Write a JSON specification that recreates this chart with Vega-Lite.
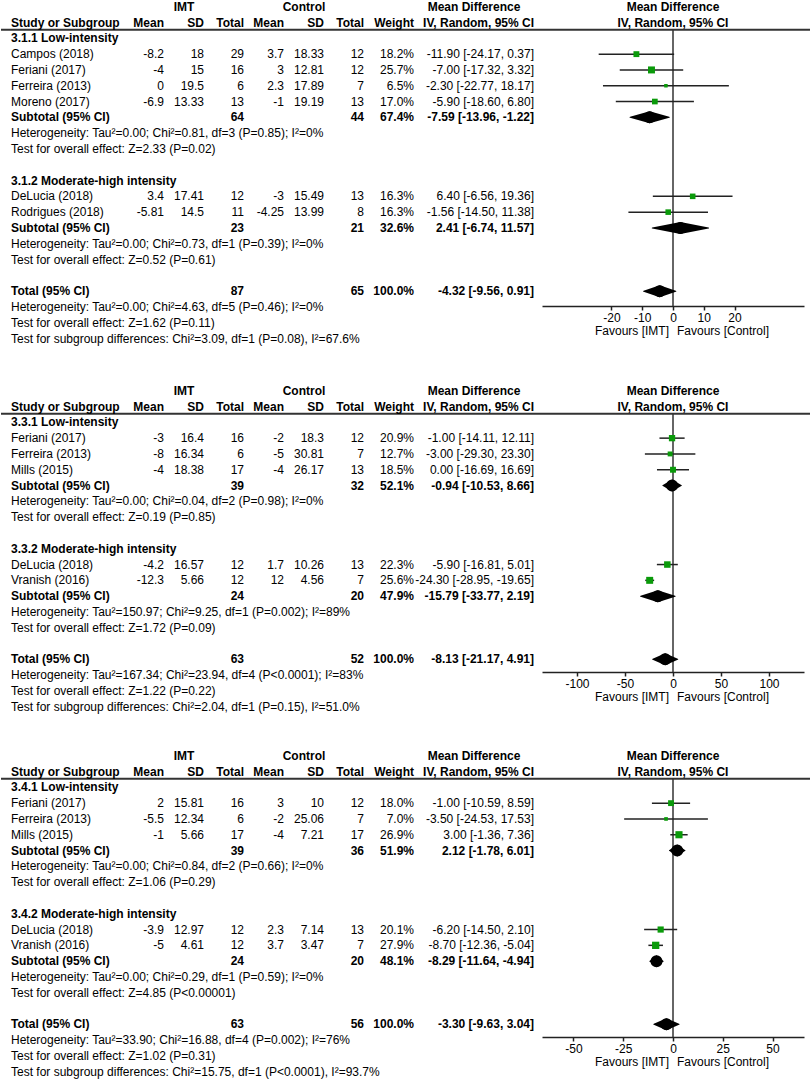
{
"$schema":"https://vega.github.io/schema/vega-lite/v6.json",
"padding":0,
"background":"white",
"spacing":27,
"datasets":{
"p1":[
{"line":-2,"kind":"group","g_imt":"IMT","g_ctl":"Control","g_md":"Mean Difference","fh":"Mean Difference"},
{"line":-1,"kind":"header","label":"Study or Subgroup","m1":"Mean","sd1":"SD","n1":"Total","m2":"Mean","sd2":"SD","n2":"Total","w":"Weight","ci":"IV, Random, 95% CI","fh":"IV, Random, 95% CI","fav1":"Favours [IMT]","fav2":"Favours [Control]"},
{"line":0,"kind":"section","label":"3.1.1 Low-intensity"},
{"line":1,"kind":"study","label":"Campos (2018)","m1":"-8.2","sd1":"18","n1":"29","m2":"3.7","sd2":"18.33","n2":"12","w":"18.2%","ci":"-11.90 [-24.17, 0.37]","est":-11.9,"lo":-24.17,"hi":0.37,"wt":18.2},
{"line":2,"kind":"study","label":"Feriani (2017)","m1":"-4","sd1":"15","n1":"16","m2":"3","sd2":"12.81","n2":"12","w":"25.7%","ci":"-7.00 [-17.32, 3.32]","est":-7,"lo":-17.32,"hi":3.32,"wt":25.7},
{"line":3,"kind":"study","label":"Ferreira (2013)","m1":"0","sd1":"19.5","n1":"6","m2":"2.3","sd2":"17.89","n2":"7","w":"6.5%","ci":"-2.30 [-22.77, 18.17]","est":-2.3,"lo":-22.77,"hi":18.17,"wt":6.5},
{"line":4,"kind":"study","label":"Moreno (2017)","m1":"-6.9","sd1":"13.33","n1":"13","m2":"-1","sd2":"19.19","n2":"13","w":"17.0%","ci":"-5.90 [-18.60, 6.80]","est":-5.9,"lo":-18.6,"hi":6.8,"wt":17.0},
{"line":5,"kind":"subtotal","label":"Subtotal (95% CI)","n1":"64","n2":"44","w":"67.4%","ci":"-7.59 [-13.96, -1.22]","est":-7.59,"lo":-13.96,"hi":-1.22},
{"line":6,"kind":"note","label":"Heterogeneity: Tau²=0.00; Chi²=0.81, df=3 (P=0.85); I²=0%"},
{"line":7,"kind":"note","label":"Test for overall effect: Z=2.33 (P=0.02)"},
{"line":9,"kind":"section","label":"3.1.2 Moderate-high intensity"},
{"line":10,"kind":"study","label":"DeLucia (2018)","m1":"3.4","sd1":"17.41","n1":"12","m2":"-3","sd2":"15.49","n2":"13","w":"16.3%","ci":"6.40 [-6.56, 19.36]","est":6.4,"lo":-6.56,"hi":19.36,"wt":16.3},
{"line":11,"kind":"study","label":"Rodrigues (2018)","m1":"-5.81","sd1":"14.5","n1":"11","m2":"-4.25","sd2":"13.99","n2":"8","w":"16.3%","ci":"-1.56 [-14.50, 11.38]","est":-1.56,"lo":-14.5,"hi":11.38,"wt":16.3},
{"line":12,"kind":"subtotal","label":"Subtotal (95% CI)","n1":"23","n2":"21","w":"32.6%","ci":"2.41 [-6.74, 11.57]","est":2.41,"lo":-6.74,"hi":11.57},
{"line":13,"kind":"note","label":"Heterogeneity: Tau²=0.00; Chi²=0.73, df=1 (P=0.39); I²=0%"},
{"line":14,"kind":"note","label":"Test for overall effect: Z=0.52 (P=0.61)"},
{"line":16,"kind":"total","label":"Total (95% CI)","n1":"87","n2":"65","w":"100.0%","ci":"-4.32 [-9.56, 0.91]","est":-4.32,"lo":-9.56,"hi":0.91},
{"line":17,"kind":"note","label":"Heterogeneity: Tau²=0.00; Chi²=4.63, df=5 (P=0.46); I²=0%"},
{"line":18,"kind":"note","label":"Test for overall effect: Z=1.62 (P=0.11)"},
{"line":19,"kind":"note","label":"Test for subgroup differences: Chi²=3.09, df=1 (P=0.08), I²=67.6%"}
],
"p2":[
{"line":-2,"kind":"group","g_imt":"IMT","g_ctl":"Control","g_md":"Mean Difference","fh":"Mean Difference"},
{"line":-1,"kind":"header","label":"Study or Subgroup","m1":"Mean","sd1":"SD","n1":"Total","m2":"Mean","sd2":"SD","n2":"Total","w":"Weight","ci":"IV, Random, 95% CI","fh":"IV, Random, 95% CI","fav1":"Favours [IMT]","fav2":"Favours [Control]"},
{"line":0,"kind":"section","label":"3.3.1 Low-intensity"},
{"line":1,"kind":"study","label":"Feriani (2017)","m1":"-3","sd1":"16.4","n1":"16","m2":"-2","sd2":"18.3","n2":"12","w":"20.9%","ci":"-1.00 [-14.11, 12.11]","est":-1,"lo":-14.11,"hi":12.11,"wt":20.9},
{"line":2,"kind":"study","label":"Ferreira (2013)","m1":"-8","sd1":"16.34","n1":"6","m2":"-5","sd2":"30.81","n2":"7","w":"12.7%","ci":"-3.00 [-29.30, 23.30]","est":-3,"lo":-29.3,"hi":23.3,"wt":12.7},
{"line":3,"kind":"study","label":"Mills (2015)","m1":"-4","sd1":"18.38","n1":"17","m2":"-4","sd2":"26.17","n2":"13","w":"18.5%","ci":"0.00 [-16.69, 16.69]","est":0,"lo":-16.69,"hi":16.69,"wt":18.5},
{"line":4,"kind":"subtotal","label":"Subtotal (95% CI)","n1":"39","n2":"32","w":"52.1%","ci":"-0.94 [-10.53, 8.66]","est":-0.94,"lo":-10.53,"hi":8.66},
{"line":5,"kind":"note","label":"Heterogeneity: Tau²=0.00; Chi²=0.04, df=2 (P=0.98); I²=0%"},
{"line":6,"kind":"note","label":"Test for overall effect: Z=0.19 (P=0.85)"},
{"line":8,"kind":"section","label":"3.3.2 Moderate-high intensity"},
{"line":9,"kind":"study","label":"DeLucia (2018)","m1":"-4.2","sd1":"16.57","n1":"12","m2":"1.7","sd2":"10.26","n2":"13","w":"22.3%","ci":"-5.90 [-16.81, 5.01]","est":-5.9,"lo":-16.81,"hi":5.01,"wt":22.3},
{"line":10,"kind":"study","label":"Vranish (2016)","m1":"-12.3","sd1":"5.66","n1":"12","m2":"12","sd2":"4.56","n2":"7","w":"25.6%","ci":"-24.30 [-28.95, -19.65]","est":-24.3,"lo":-28.95,"hi":-19.65,"wt":25.6},
{"line":11,"kind":"subtotal","label":"Subtotal (95% CI)","n1":"24","n2":"20","w":"47.9%","ci":"-15.79 [-33.77, 2.19]","est":-15.79,"lo":-33.77,"hi":2.19},
{"line":12,"kind":"note","label":"Heterogeneity: Tau²=150.97; Chi²=9.25, df=1 (P=0.002); I²=89%"},
{"line":13,"kind":"note","label":"Test for overall effect: Z=1.72 (P=0.09)"},
{"line":15,"kind":"total","label":"Total (95% CI)","n1":"63","n2":"52","w":"100.0%","ci":"-8.13 [-21.17, 4.91]","est":-8.13,"lo":-21.17,"hi":4.91},
{"line":16,"kind":"note","label":"Heterogeneity: Tau²=167.34; Chi²=23.94, df=4 (P<0.0001); I²=83%"},
{"line":17,"kind":"note","label":"Test for overall effect: Z=1.22 (P=0.22)"},
{"line":18,"kind":"note","label":"Test for subgroup differences: Chi²=2.04, df=1 (P=0.15), I²=51.0%"}
],
"p3":[
{"line":-2,"kind":"group","g_imt":"IMT","g_ctl":"Control","g_md":"Mean Difference","fh":"Mean Difference"},
{"line":-1,"kind":"header","label":"Study or Subgroup","m1":"Mean","sd1":"SD","n1":"Total","m2":"Mean","sd2":"SD","n2":"Total","w":"Weight","ci":"IV, Random, 95% CI","fh":"IV, Random, 95% CI","fav1":"Favours [IMT]","fav2":"Favours [Control]"},
{"line":0,"kind":"section","label":"3.4.1 Low-intensity"},
{"line":1,"kind":"study","label":"Feriani (2017)","m1":"2","sd1":"15.81","n1":"16","m2":"3","sd2":"10","n2":"12","w":"18.0%","ci":"-1.00 [-10.59, 8.59]","est":-1,"lo":-10.59,"hi":8.59,"wt":18.0},
{"line":2,"kind":"study","label":"Ferreira (2013)","m1":"-5.5","sd1":"12.34","n1":"6","m2":"-2","sd2":"25.06","n2":"7","w":"7.0%","ci":"-3.50 [-24.53, 17.53]","est":-3.5,"lo":-24.53,"hi":17.53,"wt":7.0},
{"line":3,"kind":"study","label":"Mills (2015)","m1":"-1","sd1":"5.66","n1":"17","m2":"-4","sd2":"7.21","n2":"17","w":"26.9%","ci":"3.00 [-1.36, 7.36]","est":3,"lo":-1.36,"hi":7.36,"wt":26.9},
{"line":4,"kind":"subtotal","label":"Subtotal (95% CI)","n1":"39","n2":"36","w":"51.9%","ci":"2.12 [-1.78, 6.01]","est":2.12,"lo":-1.78,"hi":6.01},
{"line":5,"kind":"note","label":"Heterogeneity: Tau²=0.00; Chi²=0.84, df=2 (P=0.66); I²=0%"},
{"line":6,"kind":"note","label":"Test for overall effect: Z=1.06 (P=0.29)"},
{"line":8,"kind":"section","label":"3.4.2 Moderate-high intensity"},
{"line":9,"kind":"study","label":"DeLucia (2018)","m1":"-3.9","sd1":"12.97","n1":"12","m2":"2.3","sd2":"7.14","n2":"13","w":"20.1%","ci":"-6.20 [-14.50, 2.10]","est":-6.2,"lo":-14.5,"hi":2.1,"wt":20.1},
{"line":10,"kind":"study","label":"Vranish (2016)","m1":"-5","sd1":"4.61","n1":"12","m2":"3.7","sd2":"3.47","n2":"7","w":"27.9%","ci":"-8.70 [-12.36, -5.04]","est":-8.7,"lo":-12.36,"hi":-5.04,"wt":27.9},
{"line":11,"kind":"subtotal","label":"Subtotal (95% CI)","n1":"24","n2":"20","w":"48.1%","ci":"-8.29 [-11.64, -4.94]","est":-8.29,"lo":-11.64,"hi":-4.94},
{"line":12,"kind":"note","label":"Heterogeneity: Tau²=0.00; Chi²=0.29, df=1 (P=0.59); I²=0%"},
{"line":13,"kind":"note","label":"Test for overall effect: Z=4.85 (P<0.00001)"},
{"line":15,"kind":"total","label":"Total (95% CI)","n1":"63","n2":"56","w":"100.0%","ci":"-3.30 [-9.63, 3.04]","est":-3.3,"lo":-9.63,"hi":3.04},
{"line":16,"kind":"note","label":"Heterogeneity: Tau²=33.90; Chi²=16.88, df=4 (P=0.002); I²=76%"},
{"line":17,"kind":"note","label":"Test for overall effect: Z=1.02 (P=0.31)"},
{"line":18,"kind":"note","label":"Test for subgroup differences: Chi²=15.75, df=1 (P<0.0001), I²=93.7%"}
]
},
"vconcat":[
{"hconcat":[
{"width":541,"height":355,"data":{"name":"p1"},
"transform":[{"fold":["label","m1","sd1","n1","m2","sd2","n2","w","ci","g_imt","g_ctl","g_md"],"as":["key","text"]},{"filter":"datum.text != null"}],
"encoding":{"y":{"field":"line","type":"quantitative","scale":{"domain":[-2.3,20.168],"reverse":true,"nice":false,"zero":false},"axis":null}},
"layer":[
{"transform":[{"filter":{"and":[{"field":"key","equal":"label"},{"field":"kind","equal":"header"}]}}],"mark":{"type":"rule","color":"#333","strokeWidth":2},"encoding":{"y":{"datum":-0.55,"type":"quantitative","axis":null}}},
{"transform":[{"filter":{"and":[{"field":"key","equal":"label"},{"field":"kind","oneOf":["header","section","subtotal","total"]}]}}],"mark":{"type":"text","align":"left","baseline":"middle","fontWeight":"bold","dx":7},"encoding":{"x":{"field":"key","type":"nominal","scale":{"type":"point","domain":["label","_1","_2","_3","_4","_5","_6","_7","_8","_9","_10","_11","_12","_13","_14","_15","m1","_17","g_imt","_19","sd1","_21","_22","_23","n1","_25","_26","_27","m2","_29","g_ctl","_31","sd2","_33","_34","_35","n2","_37","_38","_39","_40","w","_42","_43","_44","_45","_46","g_md","_48","_49","_50","_51","_52","ci"],"range":[3,533],"padding":0},"axis":null},"text":{"field":"text","type":"nominal"}}},
{"transform":[{"filter":{"and":[{"field":"key","equal":"label"},{"field":"kind","oneOf":["study","note"]}]}}],"mark":{"type":"text","align":"left","baseline":"middle","dx":7},"encoding":{"x":{"field":"key","type":"nominal","scale":{"type":"point","domain":["label","_1","_2","_3","_4","_5","_6","_7","_8","_9","_10","_11","_12","_13","_14","_15","m1","_17","g_imt","_19","sd1","_21","_22","_23","n1","_25","_26","_27","m2","_29","g_ctl","_31","sd2","_33","_34","_35","n2","_37","_38","_39","_40","w","_42","_43","_44","_45","_46","g_md","_48","_49","_50","_51","_52","ci"],"range":[3,533],"padding":0},"axis":null},"text":{"field":"text","type":"nominal"}}},
{"transform":[{"filter":{"and":[{"field":"key","oneOf":["m1","sd1","n1","m2","sd2","n2","w","ci"]},{"field":"kind","oneOf":["header","subtotal","total"]}]}}],"mark":{"type":"text","align":"right","baseline":"middle","fontWeight":"bold"},"encoding":{"x":{"field":"key","type":"nominal","scale":{"type":"point","domain":["label","_1","_2","_3","_4","_5","_6","_7","_8","_9","_10","_11","_12","_13","_14","_15","m1","_17","g_imt","_19","sd1","_21","_22","_23","n1","_25","_26","_27","m2","_29","g_ctl","_31","sd2","_33","_34","_35","n2","_37","_38","_39","_40","w","_42","_43","_44","_45","_46","g_md","_48","_49","_50","_51","_52","ci"],"range":[3,533],"padding":0},"axis":null},"text":{"field":"text","type":"nominal"}}},
{"transform":[{"filter":{"and":[{"field":"key","oneOf":["m1","sd1","n1","m2","sd2","n2","w","ci"]},{"field":"kind","equal":"study"}]}}],"mark":{"type":"text","align":"right","baseline":"middle"},"encoding":{"x":{"field":"key","type":"nominal","scale":{"type":"point","domain":["label","_1","_2","_3","_4","_5","_6","_7","_8","_9","_10","_11","_12","_13","_14","_15","m1","_17","g_imt","_19","sd1","_21","_22","_23","n1","_25","_26","_27","m2","_29","g_ctl","_31","sd2","_33","_34","_35","n2","_37","_38","_39","_40","w","_42","_43","_44","_45","_46","g_md","_48","_49","_50","_51","_52","ci"],"range":[3,533],"padding":0},"axis":null},"text":{"field":"text","type":"nominal"}}},
{"transform":[{"filter":{"field":"key","oneOf":["g_imt","g_ctl","g_md"]}}],"mark":{"type":"text","align":"center","baseline":"middle","fontWeight":"bold"},"encoding":{"x":{"field":"key","type":"nominal","scale":{"type":"point","domain":["label","_1","_2","_3","_4","_5","_6","_7","_8","_9","_10","_11","_12","_13","_14","_15","m1","_17","g_imt","_19","sd1","_21","_22","_23","n1","_25","_26","_27","m2","_29","g_ctl","_31","sd2","_33","_34","_35","n2","_37","_38","_39","_40","w","_42","_43","_44","_45","_46","g_md","_48","_49","_50","_51","_52","ci"],"range":[3,533],"padding":0},"axis":null},"text":{"field":"text","type":"nominal"}}}
]},
{"width":269,"height":304,"data":{"name":"p1"},
"encoding":{"y":{"field":"line","type":"quantitative","scale":{"domain":[-2.3,16.941],"reverse":true,"nice":false,"zero":false},"axis":null}},
"layer":[
{"transform":[{"filter":"datum.fh != null"}],"mark":{"type":"text","align":"center","baseline":"middle","fontWeight":"bold"},"encoding":{"x":{"datum":0,"type":"quantitative","scale":{"domain":[-42.6,42.6],"range":[0,262],"nice":false,"zero":false},"axis":{"values":[-20,-10,0,10,20],"title":null,"grid":false}},"text":{"field":"fh","type":"nominal"}}},
{"transform":[{"filter":{"field":"kind","equal":"header"}}],"mark":{"type":"rule","color":"#333","strokeWidth":2},"encoding":{"y":{"datum":-0.55,"type":"quantitative","axis":null}}},
{"transform":[{"filter":{"field":"kind","equal":"header"}}],"mark":{"type":"rule","color":"#333","strokeWidth":1.5},"encoding":{"x":{"datum":0,"type":"quantitative","scale":{"domain":[-42.6,42.6],"range":[0,262],"nice":false,"zero":false},"axis":{"values":[-20,-10,0,10,20],"title":null,"grid":false}},"y":{"datum":-0.55,"type":"quantitative","axis":null},"y2":{"datum":16.941}}},
{"transform":[{"filter":{"field":"kind","equal":"study"}}],"mark":{"type":"rule","color":"#222","strokeWidth":1.5},"encoding":{"x":{"field":"lo","type":"quantitative","scale":{"domain":[-42.6,42.6],"range":[0,262],"nice":false,"zero":false},"axis":{"values":[-20,-10,0,10,20],"title":null,"grid":false}},"x2":{"field":"hi"}}},
{"transform":[{"filter":{"field":"kind","equal":"study"}}],"mark":{"type":"point","shape":"square","filled":true,"color":"#0a9a0a","opacity":1},"encoding":{"x":{"field":"est","type":"quantitative","scale":{"domain":[-42.6,42.6],"range":[0,262],"nice":false,"zero":false},"axis":{"values":[-20,-10,0,10,20],"title":null,"grid":false}},"size":{"field":"wt","type":"quantitative","scale":{"domain":[0,30],"range":[0,57]},"legend":null}}},
{"transform":[{"filter":{"field":"kind","oneOf":["subtotal","total"]}},{"fold":["lo","est"],"as":["pt","v"]}],"mark":{"type":"trail","color":"#000"},"encoding":{"x":{"field":"v","type":"quantitative","scale":{"domain":[-42.6,42.6],"range":[0,262],"nice":false,"zero":false},"axis":{"values":[-20,-10,0,10,20],"title":null,"grid":false}},"size":{"field":"pt","type":"nominal","scale":{"type":"point","domain":["lo","est"],"range":[0,12],"padding":0},"legend":null},"detail":{"field":"line","type":"nominal"},"order":{"field":"v","type":"quantitative"}}},
{"transform":[{"filter":{"field":"kind","oneOf":["subtotal","total"]}},{"fold":["est","hi"],"as":["pt","v"]}],"mark":{"type":"trail","color":"#000"},"encoding":{"x":{"field":"v","type":"quantitative","scale":{"domain":[-42.6,42.6],"range":[0,262],"nice":false,"zero":false},"axis":{"values":[-20,-10,0,10,20],"title":null,"grid":false}},"size":{"field":"pt","type":"nominal","scale":{"type":"point","domain":["hi","est"],"range":[0,12],"padding":0},"legend":null},"detail":{"field":"line","type":"nominal"},"order":{"field":"v","type":"quantitative"}}},
{"transform":[{"filter":{"field":"kind","equal":"header"}}],"mark":{"type":"text","align":"right","baseline":"middle","dx":-4},"encoding":{"x":{"datum":0,"type":"quantitative","scale":{"domain":[-42.6,42.6],"range":[0,262],"nice":false,"zero":false},"axis":{"values":[-20,-10,0,10,20],"title":null,"grid":false}},"y":{"datum":18.52,"type":"quantitative","axis":null},"text":{"field":"fav1","type":"nominal"}}},
{"transform":[{"filter":{"field":"kind","equal":"header"}}],"mark":{"type":"text","align":"left","baseline":"middle","dx":4},"encoding":{"x":{"datum":0,"type":"quantitative","scale":{"domain":[-42.6,42.6],"range":[0,262],"nice":false,"zero":false},"axis":{"values":[-20,-10,0,10,20],"title":null,"grid":false}},"y":{"datum":18.52,"type":"quantitative","axis":null},"text":{"field":"fav2","type":"nominal"}}}
],
"resolve":{"scale":{"size":"independent"}}}
],"spacing":0,"bounds":"flush"},
{"hconcat":[
{"width":541,"height":336,"data":{"name":"p2"},
"transform":[{"fold":["label","m1","sd1","n1","m2","sd2","n2","w","ci","g_imt","g_ctl","g_md"],"as":["key","text"]},{"filter":"datum.text != null"}],
"encoding":{"y":{"field":"line","type":"quantitative","scale":{"domain":[-2.3,18.966],"reverse":true,"nice":false,"zero":false},"axis":null}},
"layer":[
{"transform":[{"filter":{"and":[{"field":"key","equal":"label"},{"field":"kind","equal":"header"}]}}],"mark":{"type":"rule","color":"#333","strokeWidth":2},"encoding":{"y":{"datum":-0.55,"type":"quantitative","axis":null}}},
{"transform":[{"filter":{"and":[{"field":"key","equal":"label"},{"field":"kind","oneOf":["header","section","subtotal","total"]}]}}],"mark":{"type":"text","align":"left","baseline":"middle","fontWeight":"bold","dx":7},"encoding":{"x":{"field":"key","type":"nominal","scale":{"type":"point","domain":["label","_1","_2","_3","_4","_5","_6","_7","_8","_9","_10","_11","_12","_13","_14","_15","m1","_17","g_imt","_19","sd1","_21","_22","_23","n1","_25","_26","_27","m2","_29","g_ctl","_31","sd2","_33","_34","_35","n2","_37","_38","_39","_40","w","_42","_43","_44","_45","_46","g_md","_48","_49","_50","_51","_52","ci"],"range":[3,533],"padding":0},"axis":null},"text":{"field":"text","type":"nominal"}}},
{"transform":[{"filter":{"and":[{"field":"key","equal":"label"},{"field":"kind","oneOf":["study","note"]}]}}],"mark":{"type":"text","align":"left","baseline":"middle","dx":7},"encoding":{"x":{"field":"key","type":"nominal","scale":{"type":"point","domain":["label","_1","_2","_3","_4","_5","_6","_7","_8","_9","_10","_11","_12","_13","_14","_15","m1","_17","g_imt","_19","sd1","_21","_22","_23","n1","_25","_26","_27","m2","_29","g_ctl","_31","sd2","_33","_34","_35","n2","_37","_38","_39","_40","w","_42","_43","_44","_45","_46","g_md","_48","_49","_50","_51","_52","ci"],"range":[3,533],"padding":0},"axis":null},"text":{"field":"text","type":"nominal"}}},
{"transform":[{"filter":{"and":[{"field":"key","oneOf":["m1","sd1","n1","m2","sd2","n2","w","ci"]},{"field":"kind","oneOf":["header","subtotal","total"]}]}}],"mark":{"type":"text","align":"right","baseline":"middle","fontWeight":"bold"},"encoding":{"x":{"field":"key","type":"nominal","scale":{"type":"point","domain":["label","_1","_2","_3","_4","_5","_6","_7","_8","_9","_10","_11","_12","_13","_14","_15","m1","_17","g_imt","_19","sd1","_21","_22","_23","n1","_25","_26","_27","m2","_29","g_ctl","_31","sd2","_33","_34","_35","n2","_37","_38","_39","_40","w","_42","_43","_44","_45","_46","g_md","_48","_49","_50","_51","_52","ci"],"range":[3,533],"padding":0},"axis":null},"text":{"field":"text","type":"nominal"}}},
{"transform":[{"filter":{"and":[{"field":"key","oneOf":["m1","sd1","n1","m2","sd2","n2","w","ci"]},{"field":"kind","equal":"study"}]}}],"mark":{"type":"text","align":"right","baseline":"middle"},"encoding":{"x":{"field":"key","type":"nominal","scale":{"type":"point","domain":["label","_1","_2","_3","_4","_5","_6","_7","_8","_9","_10","_11","_12","_13","_14","_15","m1","_17","g_imt","_19","sd1","_21","_22","_23","n1","_25","_26","_27","m2","_29","g_ctl","_31","sd2","_33","_34","_35","n2","_37","_38","_39","_40","w","_42","_43","_44","_45","_46","g_md","_48","_49","_50","_51","_52","ci"],"range":[3,533],"padding":0},"axis":null},"text":{"field":"text","type":"nominal"}}},
{"transform":[{"filter":{"field":"key","oneOf":["g_imt","g_ctl","g_md"]}}],"mark":{"type":"text","align":"center","baseline":"middle","fontWeight":"bold"},"encoding":{"x":{"field":"key","type":"nominal","scale":{"type":"point","domain":["label","_1","_2","_3","_4","_5","_6","_7","_8","_9","_10","_11","_12","_13","_14","_15","m1","_17","g_imt","_19","sd1","_21","_22","_23","n1","_25","_26","_27","m2","_29","g_ctl","_31","sd2","_33","_34","_35","n2","_37","_38","_39","_40","w","_42","_43","_44","_45","_46","g_md","_48","_49","_50","_51","_52","ci"],"range":[3,533],"padding":0},"axis":null},"text":{"field":"text","type":"nominal"}}}
]},
{"width":269,"height":286,"data":{"name":"p2"},
"encoding":{"y":{"field":"line","type":"quantitative","scale":{"domain":[-2.3,15.801],"reverse":true,"nice":false,"zero":false},"axis":null}},
"layer":[
{"transform":[{"filter":"datum.fh != null"}],"mark":{"type":"text","align":"center","baseline":"middle","fontWeight":"bold"},"encoding":{"x":{"datum":0,"type":"quantitative","scale":{"domain":[-136.5,136.5],"range":[0,262],"nice":false,"zero":false},"axis":{"values":[-100,-50,0,50,100],"title":null,"grid":false}},"text":{"field":"fh","type":"nominal"}}},
{"transform":[{"filter":{"field":"kind","equal":"header"}}],"mark":{"type":"rule","color":"#333","strokeWidth":2},"encoding":{"y":{"datum":-0.55,"type":"quantitative","axis":null}}},
{"transform":[{"filter":{"field":"kind","equal":"header"}}],"mark":{"type":"rule","color":"#333","strokeWidth":1.5},"encoding":{"x":{"datum":0,"type":"quantitative","scale":{"domain":[-136.5,136.5],"range":[0,262],"nice":false,"zero":false},"axis":{"values":[-100,-50,0,50,100],"title":null,"grid":false}},"y":{"datum":-0.55,"type":"quantitative","axis":null},"y2":{"datum":15.801}}},
{"transform":[{"filter":{"field":"kind","equal":"study"}}],"mark":{"type":"rule","color":"#222","strokeWidth":1.5},"encoding":{"x":{"field":"lo","type":"quantitative","scale":{"domain":[-136.5,136.5],"range":[0,262],"nice":false,"zero":false},"axis":{"values":[-100,-50,0,50,100],"title":null,"grid":false}},"x2":{"field":"hi"}}},
{"transform":[{"filter":{"field":"kind","equal":"study"}}],"mark":{"type":"point","shape":"square","filled":true,"color":"#0a9a0a","opacity":1},"encoding":{"x":{"field":"est","type":"quantitative","scale":{"domain":[-136.5,136.5],"range":[0,262],"nice":false,"zero":false},"axis":{"values":[-100,-50,0,50,100],"title":null,"grid":false}},"size":{"field":"wt","type":"quantitative","scale":{"domain":[0,30],"range":[0,57]},"legend":null}}},
{"transform":[{"filter":{"field":"kind","oneOf":["subtotal","total"]}},{"fold":["lo","est"],"as":["pt","v"]}],"mark":{"type":"trail","color":"#000"},"encoding":{"x":{"field":"v","type":"quantitative","scale":{"domain":[-136.5,136.5],"range":[0,262],"nice":false,"zero":false},"axis":{"values":[-100,-50,0,50,100],"title":null,"grid":false}},"size":{"field":"pt","type":"nominal","scale":{"type":"point","domain":["lo","est"],"range":[0,12],"padding":0},"legend":null},"detail":{"field":"line","type":"nominal"},"order":{"field":"v","type":"quantitative"}}},
{"transform":[{"filter":{"field":"kind","oneOf":["subtotal","total"]}},{"fold":["est","hi"],"as":["pt","v"]}],"mark":{"type":"trail","color":"#000"},"encoding":{"x":{"field":"v","type":"quantitative","scale":{"domain":[-136.5,136.5],"range":[0,262],"nice":false,"zero":false},"axis":{"values":[-100,-50,0,50,100],"title":null,"grid":false}},"size":{"field":"pt","type":"nominal","scale":{"type":"point","domain":["hi","est"],"range":[0,12],"padding":0},"legend":null},"detail":{"field":"line","type":"nominal"},"order":{"field":"v","type":"quantitative"}}},
{"transform":[{"filter":{"field":"kind","equal":"header"}}],"mark":{"type":"text","align":"right","baseline":"middle","dx":-4},"encoding":{"x":{"datum":0,"type":"quantitative","scale":{"domain":[-136.5,136.5],"range":[0,262],"nice":false,"zero":false},"axis":{"values":[-100,-50,0,50,100],"title":null,"grid":false}},"y":{"datum":17.38,"type":"quantitative","axis":null},"text":{"field":"fav1","type":"nominal"}}},
{"transform":[{"filter":{"field":"kind","equal":"header"}}],"mark":{"type":"text","align":"left","baseline":"middle","dx":4},"encoding":{"x":{"datum":0,"type":"quantitative","scale":{"domain":[-136.5,136.5],"range":[0,262],"nice":false,"zero":false},"axis":{"values":[-100,-50,0,50,100],"title":null,"grid":false}},"y":{"datum":17.38,"type":"quantitative","axis":null},"text":{"field":"fav2","type":"nominal"}}}
],
"resolve":{"scale":{"size":"independent"}}}
],"spacing":0,"bounds":"flush"},
{"hconcat":[
{"width":541,"height":329,"data":{"name":"p3"},
"transform":[{"fold":["label","m1","sd1","n1","m2","sd2","n2","w","ci","g_imt","g_ctl","g_md"],"as":["key","text"]},{"filter":"datum.text != null"}],
"encoding":{"y":{"field":"line","type":"quantitative","scale":{"domain":[-2.3,18.523],"reverse":true,"nice":false,"zero":false},"axis":null}},
"layer":[
{"transform":[{"filter":{"and":[{"field":"key","equal":"label"},{"field":"kind","equal":"header"}]}}],"mark":{"type":"rule","color":"#333","strokeWidth":2},"encoding":{"y":{"datum":-0.55,"type":"quantitative","axis":null}}},
{"transform":[{"filter":{"and":[{"field":"key","equal":"label"},{"field":"kind","oneOf":["header","section","subtotal","total"]}]}}],"mark":{"type":"text","align":"left","baseline":"middle","fontWeight":"bold","dx":7},"encoding":{"x":{"field":"key","type":"nominal","scale":{"type":"point","domain":["label","_1","_2","_3","_4","_5","_6","_7","_8","_9","_10","_11","_12","_13","_14","_15","m1","_17","g_imt","_19","sd1","_21","_22","_23","n1","_25","_26","_27","m2","_29","g_ctl","_31","sd2","_33","_34","_35","n2","_37","_38","_39","_40","w","_42","_43","_44","_45","_46","g_md","_48","_49","_50","_51","_52","ci"],"range":[3,533],"padding":0},"axis":null},"text":{"field":"text","type":"nominal"}}},
{"transform":[{"filter":{"and":[{"field":"key","equal":"label"},{"field":"kind","oneOf":["study","note"]}]}}],"mark":{"type":"text","align":"left","baseline":"middle","dx":7},"encoding":{"x":{"field":"key","type":"nominal","scale":{"type":"point","domain":["label","_1","_2","_3","_4","_5","_6","_7","_8","_9","_10","_11","_12","_13","_14","_15","m1","_17","g_imt","_19","sd1","_21","_22","_23","n1","_25","_26","_27","m2","_29","g_ctl","_31","sd2","_33","_34","_35","n2","_37","_38","_39","_40","w","_42","_43","_44","_45","_46","g_md","_48","_49","_50","_51","_52","ci"],"range":[3,533],"padding":0},"axis":null},"text":{"field":"text","type":"nominal"}}},
{"transform":[{"filter":{"and":[{"field":"key","oneOf":["m1","sd1","n1","m2","sd2","n2","w","ci"]},{"field":"kind","oneOf":["header","subtotal","total"]}]}}],"mark":{"type":"text","align":"right","baseline":"middle","fontWeight":"bold"},"encoding":{"x":{"field":"key","type":"nominal","scale":{"type":"point","domain":["label","_1","_2","_3","_4","_5","_6","_7","_8","_9","_10","_11","_12","_13","_14","_15","m1","_17","g_imt","_19","sd1","_21","_22","_23","n1","_25","_26","_27","m2","_29","g_ctl","_31","sd2","_33","_34","_35","n2","_37","_38","_39","_40","w","_42","_43","_44","_45","_46","g_md","_48","_49","_50","_51","_52","ci"],"range":[3,533],"padding":0},"axis":null},"text":{"field":"text","type":"nominal"}}},
{"transform":[{"filter":{"and":[{"field":"key","oneOf":["m1","sd1","n1","m2","sd2","n2","w","ci"]},{"field":"kind","equal":"study"}]}}],"mark":{"type":"text","align":"right","baseline":"middle"},"encoding":{"x":{"field":"key","type":"nominal","scale":{"type":"point","domain":["label","_1","_2","_3","_4","_5","_6","_7","_8","_9","_10","_11","_12","_13","_14","_15","m1","_17","g_imt","_19","sd1","_21","_22","_23","n1","_25","_26","_27","m2","_29","g_ctl","_31","sd2","_33","_34","_35","n2","_37","_38","_39","_40","w","_42","_43","_44","_45","_46","g_md","_48","_49","_50","_51","_52","ci"],"range":[3,533],"padding":0},"axis":null},"text":{"field":"text","type":"nominal"}}},
{"transform":[{"filter":{"field":"key","oneOf":["g_imt","g_ctl","g_md"]}}],"mark":{"type":"text","align":"center","baseline":"middle","fontWeight":"bold"},"encoding":{"x":{"field":"key","type":"nominal","scale":{"type":"point","domain":["label","_1","_2","_3","_4","_5","_6","_7","_8","_9","_10","_11","_12","_13","_14","_15","m1","_17","g_imt","_19","sd1","_21","_22","_23","n1","_25","_26","_27","m2","_29","g_ctl","_31","sd2","_33","_34","_35","n2","_37","_38","_39","_40","w","_42","_43","_44","_45","_46","g_md","_48","_49","_50","_51","_52","ci"],"range":[3,533],"padding":0},"axis":null},"text":{"field":"text","type":"nominal"}}}
]},
{"width":269,"height":286,"data":{"name":"p3"},
"encoding":{"y":{"field":"line","type":"quantitative","scale":{"domain":[-2.3,15.801],"reverse":true,"nice":false,"zero":false},"axis":null}},
"layer":[
{"transform":[{"filter":"datum.fh != null"}],"mark":{"type":"text","align":"center","baseline":"middle","fontWeight":"bold"},"encoding":{"x":{"datum":0,"type":"quantitative","scale":{"domain":[-65.8,65.8],"range":[0,262],"nice":false,"zero":false},"axis":{"values":[-50,-25,0,25,50],"title":null,"grid":false}},"text":{"field":"fh","type":"nominal"}}},
{"transform":[{"filter":{"field":"kind","equal":"header"}}],"mark":{"type":"rule","color":"#333","strokeWidth":2},"encoding":{"y":{"datum":-0.55,"type":"quantitative","axis":null}}},
{"transform":[{"filter":{"field":"kind","equal":"header"}}],"mark":{"type":"rule","color":"#333","strokeWidth":1.5},"encoding":{"x":{"datum":0,"type":"quantitative","scale":{"domain":[-65.8,65.8],"range":[0,262],"nice":false,"zero":false},"axis":{"values":[-50,-25,0,25,50],"title":null,"grid":false}},"y":{"datum":-0.55,"type":"quantitative","axis":null},"y2":{"datum":15.801}}},
{"transform":[{"filter":{"field":"kind","equal":"study"}}],"mark":{"type":"rule","color":"#222","strokeWidth":1.5},"encoding":{"x":{"field":"lo","type":"quantitative","scale":{"domain":[-65.8,65.8],"range":[0,262],"nice":false,"zero":false},"axis":{"values":[-50,-25,0,25,50],"title":null,"grid":false}},"x2":{"field":"hi"}}},
{"transform":[{"filter":{"field":"kind","equal":"study"}}],"mark":{"type":"point","shape":"square","filled":true,"color":"#0a9a0a","opacity":1},"encoding":{"x":{"field":"est","type":"quantitative","scale":{"domain":[-65.8,65.8],"range":[0,262],"nice":false,"zero":false},"axis":{"values":[-50,-25,0,25,50],"title":null,"grid":false}},"size":{"field":"wt","type":"quantitative","scale":{"domain":[0,30],"range":[0,57]},"legend":null}}},
{"transform":[{"filter":{"field":"kind","oneOf":["subtotal","total"]}},{"fold":["lo","est"],"as":["pt","v"]}],"mark":{"type":"trail","color":"#000"},"encoding":{"x":{"field":"v","type":"quantitative","scale":{"domain":[-65.8,65.8],"range":[0,262],"nice":false,"zero":false},"axis":{"values":[-50,-25,0,25,50],"title":null,"grid":false}},"size":{"field":"pt","type":"nominal","scale":{"type":"point","domain":["lo","est"],"range":[0,12],"padding":0},"legend":null},"detail":{"field":"line","type":"nominal"},"order":{"field":"v","type":"quantitative"}}},
{"transform":[{"filter":{"field":"kind","oneOf":["subtotal","total"]}},{"fold":["est","hi"],"as":["pt","v"]}],"mark":{"type":"trail","color":"#000"},"encoding":{"x":{"field":"v","type":"quantitative","scale":{"domain":[-65.8,65.8],"range":[0,262],"nice":false,"zero":false},"axis":{"values":[-50,-25,0,25,50],"title":null,"grid":false}},"size":{"field":"pt","type":"nominal","scale":{"type":"point","domain":["hi","est"],"range":[0,12],"padding":0},"legend":null},"detail":{"field":"line","type":"nominal"},"order":{"field":"v","type":"quantitative"}}},
{"transform":[{"filter":{"field":"kind","equal":"header"}}],"mark":{"type":"text","align":"right","baseline":"middle","dx":-4},"encoding":{"x":{"datum":0,"type":"quantitative","scale":{"domain":[-65.8,65.8],"range":[0,262],"nice":false,"zero":false},"axis":{"values":[-50,-25,0,25,50],"title":null,"grid":false}},"y":{"datum":17.38,"type":"quantitative","axis":null},"text":{"field":"fav1","type":"nominal"}}},
{"transform":[{"filter":{"field":"kind","equal":"header"}}],"mark":{"type":"text","align":"left","baseline":"middle","dx":4},"encoding":{"x":{"datum":0,"type":"quantitative","scale":{"domain":[-65.8,65.8],"range":[0,262],"nice":false,"zero":false},"axis":{"values":[-50,-25,0,25,50],"title":null,"grid":false}},"y":{"datum":17.38,"type":"quantitative","axis":null},"text":{"field":"fav2","type":"nominal"}}}
],
"resolve":{"scale":{"size":"independent"}}}
],"spacing":0,"bounds":"flush"}
],
"config":{
"view":{"stroke":null},
"text":{"font":"Liberation Sans","fontSize":12,"color":"#000"},
"axis":{"labelFont":"Liberation Sans","labelFontSize":12,"labelColor":"#000","domainColor":"#222","domainWidth":1.5,"tickColor":"#222","tickWidth":1.5,"tickSize":4,"labelPadding":2,"labelExpr":"replace(datum.label, '−', '-')"},
"axisY":{"disable":true}
}
}
